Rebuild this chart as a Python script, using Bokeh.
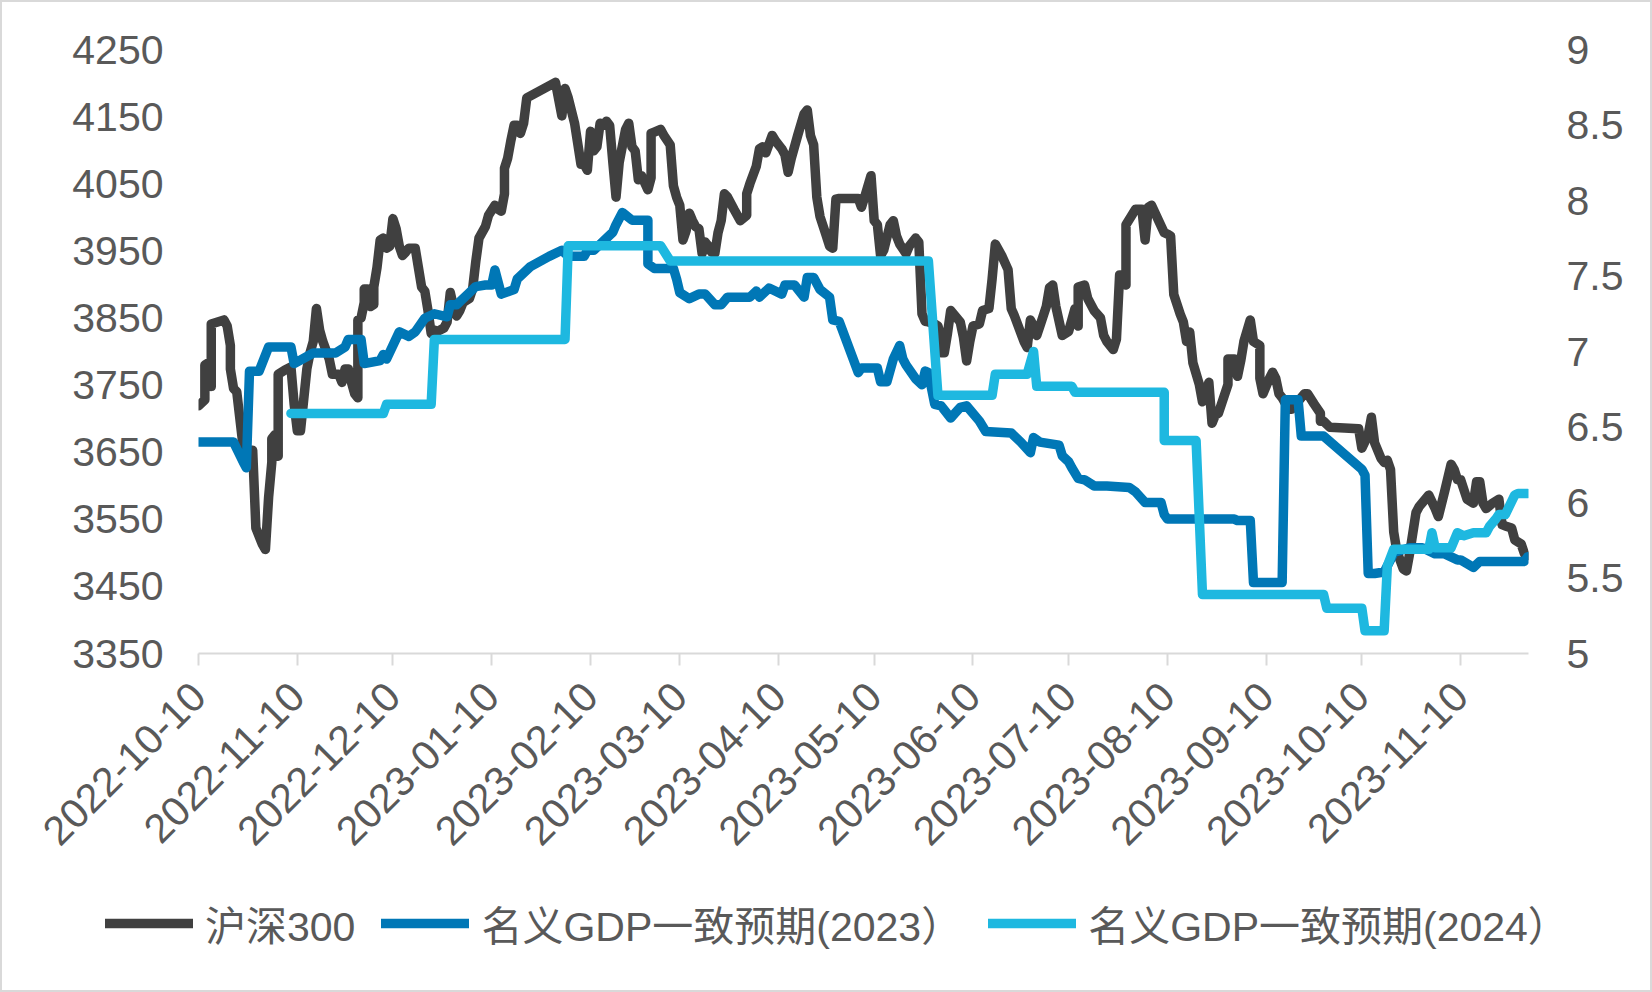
import pandas as pd
from math import pi
from bokeh.plotting import figure
from bokeh.layouts import column
from bokeh.models import (Range1d, LinearAxis, FixedTicker, DatetimeTickFormatter,
                          Legend, LegendItem, ColumnDataSource)
from bokeh.embed import file_html
from bokeh.resources import INLINE

# ---------------- data ----------------
hs300_dates = [
    "2022-10-10", "2022-10-12", "2022-10-12", "2022-10-13", "2022-10-14", "2022-10-14", "2022-10-18", "2022-10-19",
    "2022-10-20", "2022-10-20", "2022-10-21", "2022-10-22", "2022-10-23", "2022-10-24", "2022-10-25", "2022-10-27",
    "2022-10-28", "2022-10-30", "2022-10-31", "2022-11-01", "2022-11-02", "2022-11-02", "2022-11-03", "2022-11-03",
    "2022-11-04", "2022-11-04", "2022-11-06", "2022-11-08", "2022-11-09", "2022-11-10", "2022-11-11", "2022-11-13",
    "2022-11-14", "2022-11-15", "2022-11-16", "2022-11-17", "2022-11-18", "2022-11-20", "2022-11-21", "2022-11-23",
    "2022-11-24", "2022-11-25", "2022-11-26", "2022-11-27", "2022-11-28", "2022-11-29", "2022-11-29", "2022-11-30",
    "2022-12-01", "2022-12-01", "2022-12-02", "2022-12-03", "2022-12-04", "2022-12-04", "2022-12-05", "2022-12-06",
    "2022-12-07", "2022-12-08", "2022-12-09", "2022-12-10", "2022-12-11", "2022-12-12", "2022-12-13", "2022-12-14",
    "2022-12-15", "2022-12-17", "2022-12-18", "2022-12-19", "2022-12-20", "2022-12-21", "2022-12-22", "2022-12-23",
    "2022-12-24", "2022-12-26", "2022-12-27", "2022-12-28", "2022-12-29", "2022-12-30", "2022-12-31", "2023-01-01",
    "2023-01-03", "2023-01-04", "2023-01-05", "2023-01-06", "2023-01-08", "2023-01-09", "2023-01-11", "2023-01-12",
    "2023-01-13", "2023-01-14", "2023-01-14", "2023-01-15", "2023-01-16", "2023-01-17", "2023-01-18", "2023-01-19",
    "2023-01-20", "2023-01-21", "2023-01-30", "2023-02-01", "2023-02-02", "2023-02-03", "2023-02-05", "2023-02-07",
    "2023-02-08", "2023-02-09", "2023-02-10", "2023-02-11", "2023-02-12", "2023-02-13", "2023-02-14", "2023-02-15",
    "2023-02-16", "2023-02-17", "2023-02-18", "2023-02-19", "2023-02-21", "2023-02-22", "2023-02-23", "2023-02-24",
    "2023-02-25", "2023-02-26", "2023-02-28", "2023-03-01", "2023-03-01", "2023-03-02", "2023-03-04", "2023-03-05",
    "2023-03-07", "2023-03-08", "2023-03-09", "2023-03-10", "2023-03-11", "2023-03-12", "2023-03-13", "2023-03-14",
    "2023-03-15", "2023-03-16", "2023-03-17", "2023-03-18", "2023-03-19", "2023-03-20", "2023-03-21", "2023-03-22",
    "2023-03-23", "2023-03-24", "2023-03-25", "2023-03-26", "2023-03-27", "2023-03-29", "2023-03-31", "2023-03-31",
    "2023-04-01", "2023-04-03", "2023-04-04", "2023-04-05", "2023-04-06", "2023-04-08", "2023-04-09", "2023-04-11",
    "2023-04-12", "2023-04-13", "2023-04-14", "2023-04-16", "2023-04-18", "2023-04-19", "2023-04-20", "2023-04-21",
    "2023-04-22", "2023-04-23", "2023-04-25", "2023-04-26", "2023-04-27", "2023-04-28", "2023-04-29", "2023-05-05",
    "2023-05-06", "2023-05-07", "2023-05-09", "2023-05-10", "2023-05-11", "2023-05-12", "2023-05-13", "2023-05-15",
    "2023-05-16", "2023-05-17", "2023-05-18", "2023-05-20", "2023-05-21", "2023-05-23", "2023-05-24", "2023-05-25",
    "2023-05-26", "2023-05-27", "2023-05-29", "2023-05-30", "2023-05-31", "2023-05-31", "2023-06-01", "2023-06-02",
    "2023-06-03", "2023-06-06", "2023-06-07", "2023-06-08", "2023-06-09", "2023-06-10", "2023-06-12", "2023-06-13",
    "2023-06-15", "2023-06-16", "2023-06-17", "2023-06-19", "2023-06-21", "2023-06-22", "2023-06-23", "2023-06-26",
    "2023-06-27", "2023-06-28", "2023-06-29", "2023-06-30", "2023-07-01", "2023-07-03", "2023-07-04", "2023-07-05",
    "2023-07-06", "2023-07-08", "2023-07-10", "2023-07-11", "2023-07-12", "2023-07-13", "2023-07-13", "2023-07-15",
    "2023-07-16", "2023-07-18", "2023-07-20", "2023-07-21", "2023-07-22", "2023-07-24", "2023-07-25", "2023-07-26",
    "2023-07-27", "2023-07-28", "2023-07-28", "2023-07-31", "2023-08-02", "2023-08-03", "2023-08-04", "2023-08-05",
    "2023-08-09", "2023-08-10", "2023-08-11", "2023-08-12", "2023-08-14", "2023-08-15", "2023-08-16", "2023-08-17",
    "2023-08-18", "2023-08-20", "2023-08-21", "2023-08-23", "2023-08-24", "2023-08-25", "2023-08-26", "2023-08-29",
    "2023-08-29", "2023-08-31", "2023-09-01", "2023-09-02", "2023-09-03", "2023-09-05", "2023-09-06", "2023-09-08",
    "2023-09-08", "2023-09-09", "2023-09-11", "2023-09-12", "2023-09-13", "2023-09-14", "2023-09-15", "2023-09-17",
    "2023-09-18", "2023-09-22", "2023-09-23", "2023-09-25", "2023-09-27", "2023-09-27", "2023-09-28", "2023-09-30",
    "2023-10-09", "2023-10-10", "2023-10-12", "2023-10-13", "2023-10-14", "2023-10-16", "2023-10-17", "2023-10-18",
    "2023-10-19", "2023-10-20", "2023-10-21", "2023-10-23", "2023-10-24", "2023-10-25", "2023-10-27", "2023-10-28",
    "2023-10-31", "2023-11-02", "2023-11-03", "2023-11-05", "2023-11-07", "2023-11-08", "2023-11-09", "2023-11-10",
    "2023-11-12", "2023-11-14", "2023-11-15", "2023-11-16", "2023-11-17", "2023-11-18", "2023-11-20", "2023-11-22",
    "2023-11-23", "2023-11-24", "2023-11-26", "2023-11-27", "2023-11-29", "2023-11-30", "2023-12-01",
]
hs300_values = [
    3719, 3728, 3780, 3783, 3748, 3841, 3847, 3838,
    3809, 3774, 3745, 3740, 3699, 3658, 3635, 3653,
    3537, 3513, 3505, 3583, 3635, 3670, 3676, 3644,
    3644, 3766, 3772, 3777, 3722, 3682, 3682, 3774,
    3798, 3815, 3864, 3832, 3815, 3789, 3766, 3766,
    3754, 3774, 3774, 3754, 3737, 3731, 3847, 3850,
    3873, 3893, 3893, 3867, 3870, 3896, 3925, 3966,
    3969, 3954, 3957, 3998, 3983, 3957, 3943, 3948,
    3954, 3954, 3925, 3896, 3890, 3861, 3827, 3832,
    3830, 3835, 3844, 3888, 3867, 3853, 3861, 3873,
    3879, 3893, 3934, 3969, 3986, 4003, 4018, 4012,
    4009, 4035, 4073, 4088, 4114, 4137, 4137, 4125,
    4140, 4178, 4201, 4151, 4192, 4178, 4140, 4079,
    4079, 4070, 4128, 4099, 4105, 4140, 4137, 4143,
    4137, 4082, 4030, 4082, 4131, 4140, 4105, 4099,
    4056, 4062, 4041, 4059, 4125, 4127, 4131, 4122,
    4108, 4047, 4030, 4018, 3966, 3980, 4006, 3995,
    3986, 3983, 3946, 3963, 3957, 3948, 3946, 3977,
    3995, 4035, 4030, 4021, 4012, 3995, 4003, 4035,
    4050, 4076, 4102, 4105, 4096, 4122, 4114, 4102,
    4093, 4067, 4088, 4122, 4154, 4160, 4122, 4108,
    4030, 4001, 3972, 3957, 3954, 4027, 4028, 4028,
    4015, 4030, 4062, 3995, 3989, 3943, 3951, 3989,
    3995, 3972, 3960, 3946, 3957, 3969, 3963, 3856,
    3845, 3844, 3841, 3838, 3821, 3798, 3798, 3827,
    3861, 3844, 3821, 3786, 3815, 3838, 3841, 3861,
    3864, 3908, 3960, 3943, 3922, 3864, 3853, 3815,
    3806, 3847, 3838, 3824, 3838, 3867, 3895, 3899,
    3867, 3824, 3830, 3847, 3864, 3838, 3896, 3899,
    3879, 3861, 3850, 3824, 3815, 3803, 3818, 3914,
    3914, 3899, 3989, 4012, 4012, 3966, 4015, 4018,
    3977, 3975, 3972, 3885, 3856, 3844, 3815, 3829,
    3783, 3751, 3725, 3754, 3693, 3705, 3708, 3751,
    3789, 3789, 3763, 3786, 3815, 3847, 3815, 3809,
    3760, 3737, 3760, 3769, 3760, 3737, 3731, 3714,
    3714, 3737, 3737, 3722, 3708, 3696, 3696, 3687,
    3685, 3656, 3676, 3702, 3664, 3641, 3635, 3638,
    3624, 3531, 3502, 3476, 3473, 3499, 3560, 3569,
    3586, 3566, 3554, 3592, 3632, 3624, 3609, 3609,
    3580, 3574, 3606, 3606, 3574, 3566, 3574, 3580,
    3542, 3540, 3537, 3519, 3513, 3499, 3496,
]

gdp2023_dates = [
    "2022-10-10", "2022-10-21", "2022-10-24", "2022-10-25", "2022-10-26", "2022-10-29", "2022-11-01", "2022-11-08",
    "2022-11-09", "2022-11-15", "2022-11-22", "2022-11-25", "2022-11-26", "2022-11-30", "2022-12-01", "2022-12-06",
    "2022-12-07", "2022-12-08", "2022-12-12", "2022-12-15", "2022-12-17", "2022-12-20", "2022-12-23", "2022-12-27",
    "2022-12-28", "2022-12-30", "2023-01-03", "2023-01-05", "2023-01-08", "2023-01-10", "2023-01-11", "2023-01-13",
    "2023-01-17", "2023-01-18", "2023-01-20", "2023-01-22", "2023-01-28", "2023-02-01", "2023-02-03", "2023-02-08",
    "2023-02-09", "2023-02-11", "2023-02-15", "2023-02-17", "2023-02-18", "2023-02-20", "2023-02-23", "2023-02-28",
    "2023-02-28", "2023-03-02", "2023-03-08", "2023-03-09", "2023-03-10", "2023-03-13", "2023-03-16", "2023-03-18",
    "2023-03-21", "2023-03-23", "2023-03-25", "2023-04-01", "2023-04-03", "2023-04-04", "2023-04-07", "2023-04-11",
    "2023-04-12", "2023-04-15", "2023-04-18", "2023-04-19", "2023-04-21", "2023-04-23", "2023-04-26", "2023-04-27",
    "2023-04-29", "2023-05-05", "2023-05-06", "2023-05-11", "2023-05-12", "2023-05-14", "2023-05-16", "2023-05-18",
    "2023-05-19", "2023-05-20", "2023-05-23", "2023-05-25", "2023-05-26", "2023-05-27", "2023-05-29", "2023-05-31",
    "2023-06-03", "2023-06-06", "2023-06-08", "2023-06-12", "2023-06-14", "2023-06-22", "2023-06-25", "2023-06-28",
    "2023-06-29", "2023-07-01", "2023-07-07", "2023-07-08", "2023-07-10", "2023-07-11", "2023-07-13", "2023-07-15",
    "2023-07-18", "2023-07-22", "2023-07-29", "2023-07-31", "2023-08-03", "2023-08-08", "2023-08-09", "2023-08-10",
    "2023-08-31", "2023-09-01", "2023-09-05", "2023-09-06", "2023-09-15", "2023-09-16", "2023-09-20", "2023-09-21",
    "2023-09-28", "2023-10-10", "2023-10-11", "2023-10-12", "2023-10-14", "2023-10-17", "2023-10-19", "2023-10-20",
    "2023-10-25", "2023-10-29", "2023-11-02", "2023-11-05", "2023-11-09", "2023-11-10", "2023-11-14", "2023-11-16",
    "2023-11-30", "2023-12-01",
]
gdp2023_values = [
    6.40, 6.40, 6.27, 6.23, 6.87, 6.87, 7.03, 7.03,
    6.92, 6.99, 6.99, 7.03, 7.08, 7.08, 6.92, 6.94,
    6.98, 6.95, 7.13, 7.10, 7.13, 7.22, 7.25, 7.23,
    7.31, 7.31, 7.39, 7.43, 7.44, 7.44, 7.54, 7.38,
    7.41, 7.48, 7.52, 7.56, 7.63, 7.67, 7.63, 7.63,
    7.67, 7.67, 7.75, 7.79, 7.84, 7.92, 7.87, 7.87,
    7.58, 7.55, 7.55, 7.48, 7.39, 7.35, 7.38, 7.38,
    7.31, 7.31, 7.36, 7.36, 7.40, 7.36, 7.42, 7.38,
    7.44, 7.44, 7.36, 7.49, 7.49, 7.41, 7.36, 7.21,
    7.20, 6.86, 6.89, 6.89, 6.80, 6.80, 6.95, 7.04,
    6.95, 6.91, 6.82, 6.78, 6.87, 6.86, 6.65, 6.64,
    6.56, 6.63, 6.64, 6.54, 6.47, 6.46, 6.40, 6.33,
    6.43, 6.40, 6.38, 6.31, 6.27, 6.23, 6.16, 6.15,
    6.11, 6.11, 6.10, 6.07, 6.00, 6.00, 5.92, 5.89,
    5.89, 5.88, 5.88, 5.47, 5.47, 6.68, 6.68, 6.44,
    6.44, 6.22, 6.18, 5.53, 5.53, 5.54, 5.62, 5.67,
    5.70, 5.70, 5.66, 5.66, 5.62, 5.62, 5.57, 5.61,
    5.61, 5.64,
]

gdp2024_dates = [
    "2022-11-08", "2022-12-07", "2022-12-08", "2022-12-22", "2022-12-23", "2023-02-02", "2023-02-03", "2023-03-04",
    "2023-03-07", "2023-05-27", "2023-05-30", "2023-06-16", "2023-06-17", "2023-06-27", "2023-06-29", "2023-06-30",
    "2023-07-11", "2023-07-12", "2023-08-09", "2023-08-09", "2023-08-19", "2023-08-21", "2023-09-28", "2023-09-29",
    "2023-10-10", "2023-10-11", "2023-10-17", "2023-10-18", "2023-10-20", "2023-10-31", "2023-11-01", "2023-11-02",
    "2023-11-07", "2023-11-09", "2023-11-11", "2023-11-14", "2023-11-18", "2023-11-19", "2023-11-21", "2023-11-22",
    "2023-11-24", "2023-11-27", "2023-11-28", "2023-12-01",
]
gdp2024_values = [
    6.59, 6.59, 6.65, 6.65, 7.08, 7.08, 7.70, 7.70,
    7.60, 7.60, 6.71, 6.71, 6.85, 6.85, 7.00, 6.77,
    6.77, 6.73, 6.73, 6.41, 6.41, 5.39, 5.39, 5.30,
    5.30, 5.15, 5.15, 5.58, 5.69, 5.69, 5.80, 5.70,
    5.70, 5.80, 5.78, 5.80, 5.80, 5.84, 5.89, 5.92,
    5.92, 6.05, 6.06, 6.06,
]

series_names = ["沪深300", "名义GDP一致预期(2023）", "名义GDP一致预期(2024）"]
series_colors = ["#404040", "#0077B6", "#1EB8E0"]

x_tick_labels = ["2022-10-10", "2022-11-10", "2022-12-10", "2023-01-10", "2023-02-10", "2023-03-10", "2023-04-10",
                 "2023-05-10", "2023-06-10", "2023-07-10", "2023-08-10", "2023-09-10", "2023-10-10", "2023-11-10"]
left_ticks = [3350, 3450, 3550, 3650, 3750, 3850, 3950, 4050, 4150, 4250]
right_tick_labels = ["5", "5.5", "6", "6.5", "7", "7.5", "8", "8.5", "9"]

# ---------------- figure ----------------
FONT = "'Liberation Sans', 'Noto Sans CJK SC'"
TEXT_COLOR = "#595959"
AXIS_COLOR = "#D9D9D9"
FS = "41px"
LW = 9.5

p = figure(width=1648, height=880, x_axis_type="datetime",
           output_backend="svg", toolbar_location=None,
           x_range=Range1d(pd.Timestamp("2022-10-10"), pd.Timestamp("2023-12-01 07:00")),
           y_range=Range1d(3350, 4250),
           min_border_left=196, min_border_right=122, min_border_top=47, min_border_bottom=229)
p.frame_align = False
p.extra_y_ranges = {"right": Range1d(5, 9)}
p.grid.visible = False
p.outline_line_color = None
p.background_fill_color = "white"
p.border_fill_color = "white"

# x axis
xa = p.xaxis[0]
xa.ticker = FixedTicker(ticks=[pd.Timestamp(s).value / 1e6 for s in x_tick_labels])
fmt = "%Y-%m-%d"
xa.formatter = DatetimeTickFormatter(days=fmt, months=fmt, years=fmt, hours=fmt, hourmin=fmt)
xa.major_label_orientation = pi / 4
xa.axis_line_color = AXIS_COLOR
xa.axis_line_width = 2
xa.major_tick_line_color = AXIS_COLOR
xa.major_tick_line_width = 2
xa.major_tick_in = 0
xa.major_tick_out = 12
xa.minor_tick_line_color = None
xa.major_label_standoff = 24
xa.major_label_text_font = FONT
xa.major_label_text_font_size = FS
xa.major_label_text_color = TEXT_COLOR

# left axis
ya = p.yaxis[0]
ya.ticker = FixedTicker(ticks=left_ticks)
ya.axis_line_color = None
ya.major_tick_line_color = None
ya.minor_tick_line_color = None
ya.major_tick_in = 0
ya.major_tick_out = 0
ya.major_label_standoff = 35
ya.major_label_text_font = FONT
ya.major_label_text_font_size = FS
ya.major_label_text_color = TEXT_COLOR

# right axis
right_ticks = [float(s) for s in right_tick_labels]
ra = LinearAxis(y_range_name="right")
ra.ticker = FixedTicker(ticks=right_ticks)
ra.major_label_overrides = {t: s for t, s in zip(right_ticks, right_tick_labels)}
ra.axis_line_color = None
ra.major_tick_line_color = None
ra.minor_tick_line_color = None
ra.major_tick_in = 0
ra.major_tick_out = 0
ra.major_label_standoff = 38
ra.major_label_text_font = FONT
ra.major_label_text_font_size = FS
ra.major_label_text_color = TEXT_COLOR
p.add_layout(ra, "right")

# lines
src0 = ColumnDataSource(dict(x=pd.to_datetime(hs300_dates), y=hs300_values))
src1 = ColumnDataSource(dict(x=pd.to_datetime(gdp2023_dates), y=gdp2023_values))
src2 = ColumnDataSource(dict(x=pd.to_datetime(gdp2024_dates), y=gdp2024_values))

line_kw = dict(line_width=LW, line_join="round", line_cap="round")
p.line("x", "y", source=src0, color=series_colors[0], **line_kw)
p.line("x", "y", source=src1, color=series_colors[1], y_range_name="right", **line_kw)
p.line("x", "y", source=src2, color=series_colors[2], y_range_name="right", **line_kw)

# ---------------- legend strip ----------------
pl = figure(width=1648, height=108, output_backend="svg", toolbar_location=None,
            x_range=Range1d(0, 1), y_range=Range1d(0, 1),
            x_axis_location=None, y_axis_location=None,
            min_border=0, min_border_left=0, min_border_right=0, min_border_top=0, min_border_bottom=0)
pl.frame_align = False
pl.grid.visible = False
pl.outline_line_color = None
pl.border_fill_color = "white"
pl.background_fill_color = "white"
items = []
for name, col in zip(series_names, series_colors):
    # off-range stand-in so that only the legend swatch shows
    r = pl.line(x=[-5, -4], y=[-5, -4], color=col, **line_kw)
    items.append(LegendItem(label=name, renderers=[r]))
legend = Legend(items=items, orientation="horizontal", location=(103, 37),
                label_text_font=FONT, label_text_font_size="41px", label_text_color=TEXT_COLOR,
                glyph_width=88, glyph_height=42, label_height=42, label_standoff=12, spacing=26,
                padding=0, margin=0, border_line_color=None, background_fill_alpha=0)
pl.add_layout(legend)

layout = column(p, pl, spacing=0, styles={"border": "2px solid #D9D9D9"})

open("out.html", "w").write(file_html(layout, INLINE))
